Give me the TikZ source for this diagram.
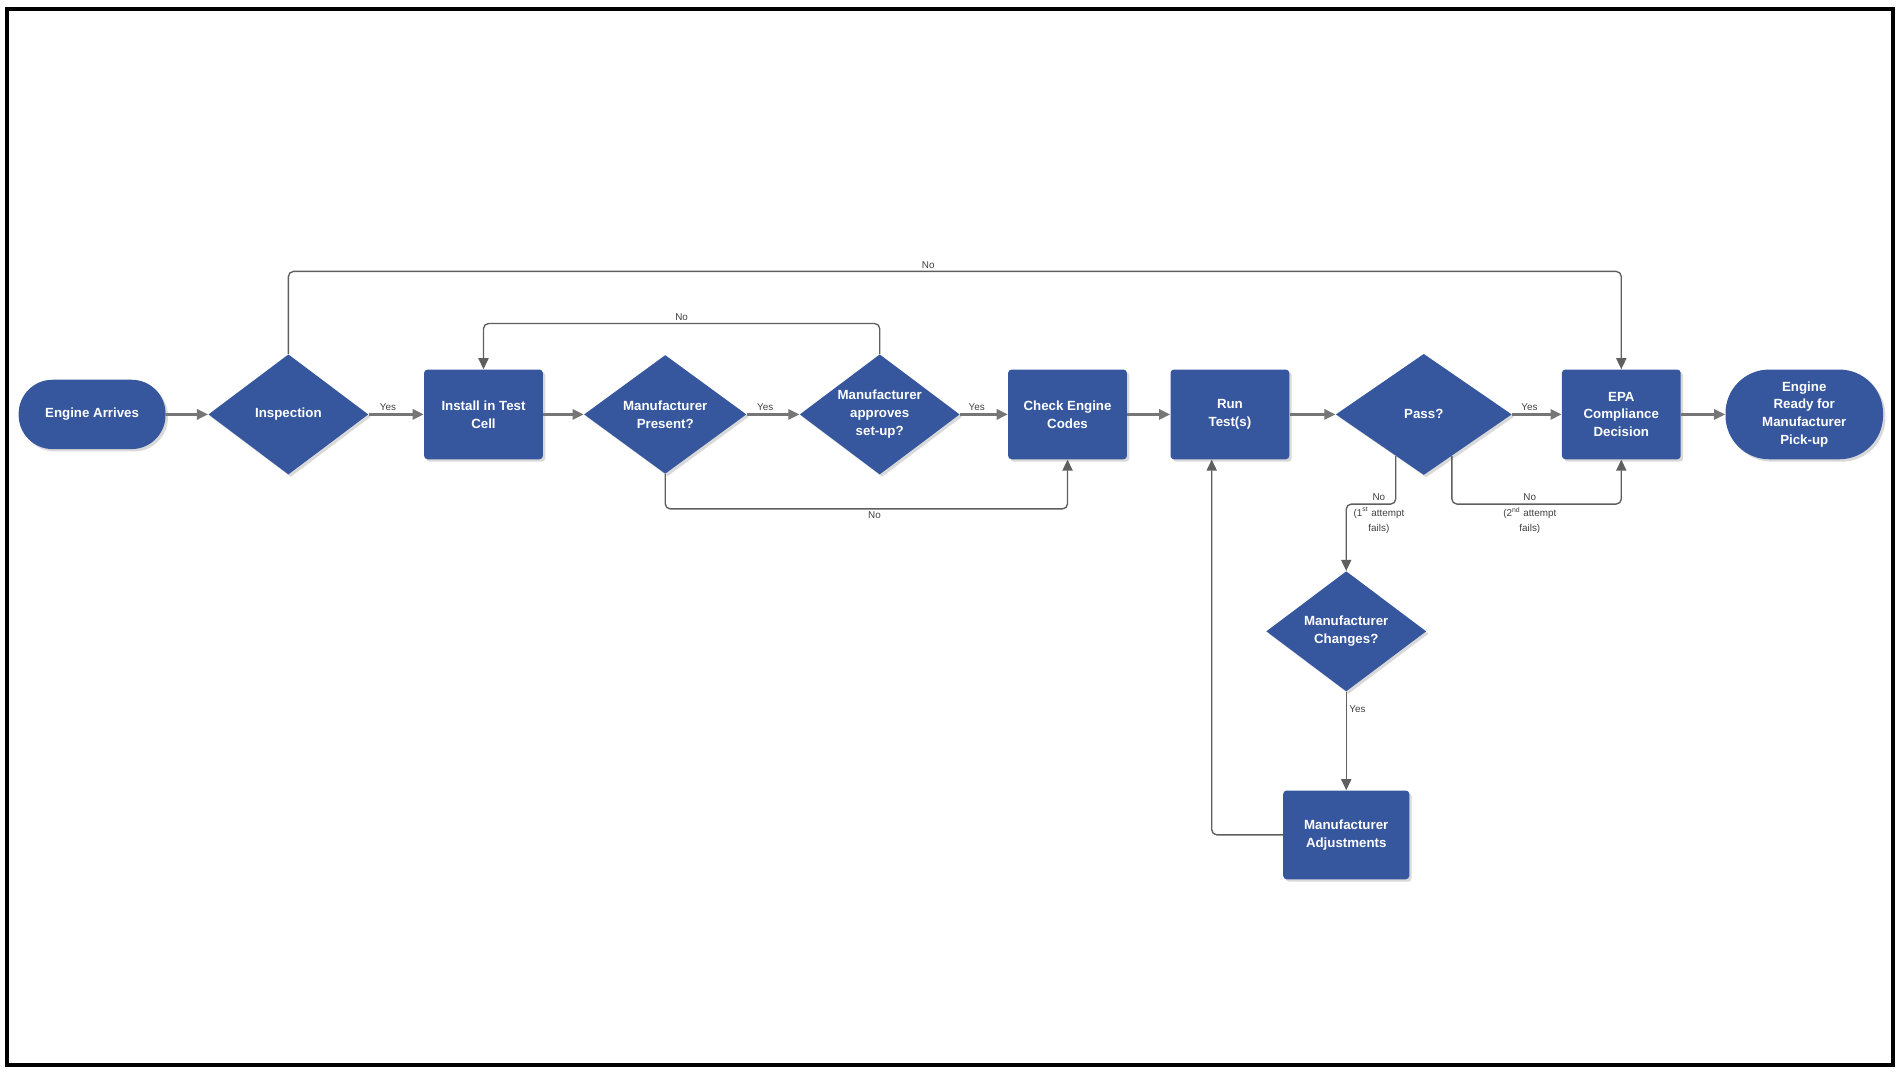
\documentclass[tikz,border=0pt]{standalone}
\usepackage{fontspec}
\setmainfont{Liberation Sans}
\usetikzlibrary{shapes.geometric,arrows.meta,shadows}
\definecolor{nodeblue}{RGB}{54,87,158}
\definecolor{flowgray}{RGB}{118,118,118}
\definecolor{loopgray}{RGB}{95,95,95}
\begin{document}
\begin{tikzpicture}[x=0.025cm, y=-0.025cm, >={Triangle[length=6.5pt,width=6pt]},
  blk/.style={fill=nodeblue,text=white,font=\fontsize{7.8}{10.5}\selectfont\bfseries,align=center,inner sep=0pt,
    drop shadow={shadow xshift=1.4pt,shadow yshift=-1.4pt,opacity=.3}},
  term/.style={blk,rectangle,rounded corners=0.7cm,minimum width=3.03cm,minimum height=1.43cm},
  proc/.style={blk,rectangle,rounded corners=2pt,minimum width=2.45cm,minimum height=1.85cm},
  decide/.style={blk,diamond,aspect=1.3,minimum width=3.3cm,minimum height=2.48cm},
  flow/.style={->,draw=flowgray,line width=1.4pt},
  back/.style={->,draw=loopgray,line width=0.8pt,rounded corners=3pt},
  lbl/.style={font=\fontsize{5.8}{9}\selectfont,text=black!75,inner sep=1.5pt}]
\useasboundingbox (0,0) rectangle (1568,886);
\draw[line width=2.1pt] (6,7.5) rectangle (1562,879);
% main row
\node[term] (arrive) at (76,342) {Engine Arrives};
\node[decide] (insp) at (238,342) {Inspection};
\node[proc] (install) at (399,342) {Install in Test\\Cell};
\node[decide,minimum width=3.35cm,minimum height=2.45cm] (present) at (549,342) {Manufacturer\\Present?};
\node[decide] (approve) at (726,342) {Manufacturer\\approves\\set-up?};
\node[proc] (codes) at (881,342) {Check Engine\\Codes};
\node[proc] (runtest) at (1015,342) {Run\\Test(s)};
\node[decide,minimum width=3.63cm,minimum height=2.5cm] (pass) at (1175,342) {Pass?};
\node[proc] (epa) at (1338,342) {EPA\\Compliance\\Decision};
\node[term,rounded corners=0.9cm,minimum width=3.25cm,minimum height=1.85cm] (ready) at (1489,342) {Engine\\Ready for\\Manufacturer\\Pick-up};
% retest branch
\node[decide] (changes) at (1111,521) {Manufacturer\\Changes?};
\node[proc,minimum width=2.6cm,minimum height=1.83cm] (adjust) at (1111,689) {Manufacturer\\Adjustments};
% levels of the return lines
\coordinate (toprun) at (0,224);
\coordinate (midrun) at (0,267);
\coordinate (lowrun) at (0,420);
\coordinate (passrun) at (0,416);
\draw[flow] (arrive) -- (insp);
\draw[flow] (insp) -- node[lbl,above,pos=.35] {Yes} (install);
\draw[flow] (install) -- (present);
\draw[flow] (present) -- node[lbl,above,pos=.35] {Yes} (approve);
\draw[flow] (approve) -- node[lbl,above,pos=.35] {Yes} (codes);
\draw[flow] (codes) -- (runtest);
\draw[flow] (runtest) -- (pass);
\draw[flow] (pass) -- node[lbl,above,pos=.35] {Yes} (epa);
\draw[flow] (epa) -- (ready);
\draw[back] (insp.north) -- (insp.north |- toprun) -| node[lbl,above,pos=.24] {No} (epa.north);
\draw[back] (approve.north) -- (approve.north |- midrun) -| node[lbl,above,pos=.25] {No} (install.north);
\draw[back] (present.south) -- (present.south |- lowrun) -| node[lbl,below,pos=.26] {No} (codes.south);
\draw[back] (pass.236) -- (pass.236 |- passrun) -| node[lbl,above,pos=.17] {No}
  node[lbl,below,pos=.17,align=center] {(1\textsuperscript{st} attempt\\fails)} (changes.north);
\draw[back] (pass.304) -- (pass.304 |- passrun) -| node[lbl,above,pos=.23] {No}
  node[lbl,below,pos=.23,align=center] {(2\textsuperscript{nd} attempt\\fails)} (epa.south);
\draw[back] (changes) -- node[lbl,right,pos=.18] {Yes} (adjust);
\draw[back] (adjust.west) -| ([xshift=-3.75mm]runtest.south);
\end{tikzpicture}
\end{document}
